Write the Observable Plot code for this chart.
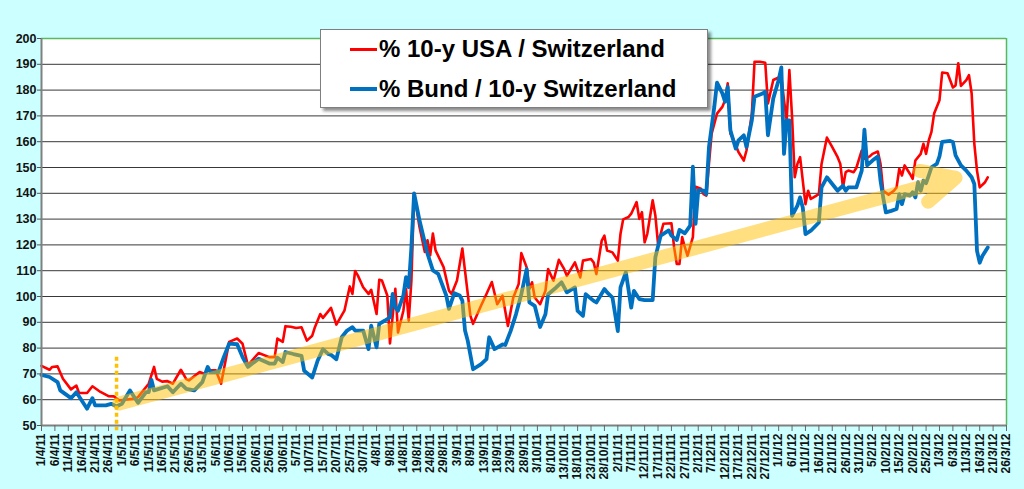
<!DOCTYPE html>
<html><head><meta charset="utf-8">
<script src="https://cdn.jsdelivr.net/npm/d3@7"></script>
<script src="https://cdn.jsdelivr.net/npm/@observablehq/plot@0.6"></script>
<style>
body{margin:0;background:#ccffff;}
#wrap{position:relative;width:1024px;height:489px;background:#ccffff;font-family:Arial,"Liberation Sans",sans-serif;overflow:hidden}
#legend{position:absolute;left:320px;top:29px;width:386px;height:77px;background:#fff;border:1px solid #7f7f7f;box-shadow:3px 3px 3px rgba(0,0,0,0.45);}
.item{position:absolute;left:29px;height:30px;display:flex;align-items:center;font-weight:bold;font-size:24px;color:#000;white-space:nowrap}
.sw{display:inline-block;width:27px;margin-right:2px}
</style></head><body>
<div id="wrap"><div id="chart"></div><div id="legend"></div></div>
<script>
// x values: days since 1 April 2011
const startDate = "2011-04-01";
const usaDays = [0,3,4,6,8,11,13,14,17,19,22,25,27,29,31,35,36,40,42,43,45,47,49,52,54,55,59,61,62,65,67,70,73,75,77,81,85,87,88,90,91,
93,95,97,99,101,102,104,105,108,110,113,115,116,117,118,120,122,123,125,126,127,129,130,132,133,135,136,137,138,139,141,143,144,145,146,147,150,152,153,155,157,160,161,164,166,168,
170,172,174,176,178,179,181,182,183,184,186,188,189,191,193,195,196,199,201,202,205,206,207,209,210,211,213,215,216,217,219,220,222,223,224,225,226,228,229,230,232,235,236,237,238,239,240,241,243,244,246,
247,248,249,250,252,254,255,256,257,258,260,262,263,265,266,268,270,271,273,275,276,277,278,279,280,281,282,283,285,286,287,288,290,291,293,295,297,298,299,300,
301,303,304,306,307,309,310,312,313,314,316,318,319,320,321,322,324,325,326,328,329,330,331,332,333,335,336,338,340,341,342,343,345,346,347,348,349,350,352,353];
const usaValues = [73.1,71.6,72.7,72.9,68.1,64,65.5,62.6,62.6,65.2,63,61.4,61.3,59.7,60,60.4,61,66.2,72.7,68.1,67,67.2,66.2,71.6,68,67.5,70.7,70,71.4,71.4,66.2,82.4,83.7,81.7,73.3,78.1,76.5,76.5,83.7,82.4,88.5,
88.3,87.8,88.1,82.9,84.8,88.1,93.2,91.7,95.6,89.1,94.5,103.9,101,109.9,108.2,103.6,101,102.6,93.2,106.5,106.2,100.4,81.8,103,86.1,94.5,103,90.6,106.2,140,127,117.3,121.8,116,124.4,117.9,111.4,102.3,101,106.2,118.6,92.6,89.4,96.5,101,105.6,
97,100.3,88.6,99.6,104.8,116.8,111.3,102.9,105.5,99.6,97,102.2,110.6,106.1,114.2,110.6,108,113.2,107.4,113.9,114.5,113.2,108.7,121.7,123.6,117.8,117.1,113.9,124.3,129.9,130.8,132.1,136.6,130.1,132.7,121,124.3,137.3,131.4,120.4,128.2,128.4,119.1,112.6,112.6,123,119.1,115.8,123,142.5,141.8,
139.7,139.1,151.4,163.1,170.9,173.5,176.1,182.6,163.1,161.2,156,152.7,156.6,170.9,191,191,190.6,174.8,183.9,184.9,185.2,176.1,168.3,187.8,169.6,146.2,151.4,154,135.8,141,137.8,138.4,139.7,151.4,161.6,157.9,154,151.4,142.3,148.2,
148.8,148.2,149.9,156.6,153.4,154.3,155.3,156.2,151.4,141,139.5,141,142.3,149.5,146.9,150.8,147.5,145.6,152.7,155.3,159.2,155.3,160.5,163.8,170.9,176.1,186.8,186.5,181,181.8,190.4,181.6,183.9,185.8,178.7,159.2,148.8,142.3,144.3,146.2];
const bundDays = [0,3,6,7,11,13,15,17,19,20,24,26,28,30,33,36,39,40,41,42,47,49,52,54,57,60,62,63,66,68,70,73,75,77,81,85,87,88,90,91,
94,97,98,101,103,105,107,108,110,112,114,116,117,120,122,123,125,126,128,130,131,132,133,135,136,137,138,139,141,144,146,148,151,152,154,156,157,158,159,161,164,166,167,169,
172,173,175,177,179,181,182,184,186,188,189,192,194,196,199,200,202,203,206,207,210,211,213,215,216,218,220,221,223,225,228,229,231,234,235,237,238,240,242,243,244,245,
247,248,249,251,252,254,255,256,257,259,260,262,263,265,266,269,270,271,273,275,276,277,278,279,280,282,283,284,285,287,290,291,293,295,297,299,300,
301,304,306,307,308,310,312,313,314,315,317,319,320,321,322,324,325,326,327,328,329,330,331,332,334,335,336,339,340,341,343,345,347,348,349,350,351,353];
const bundValues = [69.6,68.8,66.8,63.6,60.6,62.9,59.7,56.5,60.6,57.8,57.8,58.4,57.4,58.4,63.6,58.8,62.9,62.9,67.7,63.6,65.2,62.9,66.2,64.2,63.6,66.8,72.7,70.7,70.7,76.5,81.7,81.5,76.5,72.7,75.9,74,74,76.3,74.6,78.5,
77.7,77,71.2,68.6,75.1,79.6,77.7,77.4,75.7,84.2,86.8,88.1,86.8,86.8,79.6,88.7,80.3,89.4,90.6,91.9,101,95.8,94.5,100.4,107.5,103.6,119.2,140,129.6,116.6,110.1,108.8,100.4,95.2,101.3,100.4,98.4,86.8,82.9,71.8,73.8,75.7,84.2,79.6,
81.4,81.2,86.6,93.1,100.9,110.6,97.7,96.4,88.2,93.1,100.9,103.5,105.5,101.6,103.5,94.4,92.5,100.9,98.3,97.7,102.9,101.6,99.6,86.6,103.5,109.4,95.7,102.2,99,98.6,98.6,115.2,123.6,125.6,123.6,121.9,125.8,124.5,127.5,150.3,128.2,141.2,
141,139.7,157.9,173.5,182.9,178.7,175.5,181.3,164.4,157.3,160.5,162.5,157.9,168.3,177.4,178.7,179.4,162.5,176.8,183.9,188.8,155.3,168.3,168.3,131.3,135.2,138.4,134.5,124.2,125.5,128.7,142.3,146.2,143.6,141,143,141,
142.3,142.3,148.8,164.7,150.8,152.7,154.3,144.9,138.4,132.6,133.2,133.9,139.7,135.8,139.7,139.1,140.4,138.4,144.3,141,144.9,143.9,146.9,150.1,151.4,154.3,159.9,160.3,159.9,154.7,150.8,148.8,146.2,143.6,117.7,113.1,115.7,119];

const seriesNames = ["% 10-y USA / Switzerland", "% Bund / 10-y Switzerland"];
const seriesColors = ["#ff0000", "#0070c0"];
const yTicks = [50,60,70,80,90,100,110,120,130,140,150,160,170,180,190,200];
const xFirstTick = "2011-04-01", xLastTick = "2012-03-26", xTickStepDays = 5;
// trend arrow and marker line
const arrowStart = {date: "2011-04-30", value: 58.5};
const arrowEnd = {date: "2012-03-07", value: 146};
const markerDate = "2011-04-29", markerTop = 76.5, markerBottom = 48;

const base = new Date(startDate + "T00:00:00Z");
const toDate = d => d3.utcDay.offset(base, d);
const parse = s => new Date(s + "T00:00:00Z");
const usa = usaDays.map((d, i) => ({date: toDate(d), value: usaValues[i]}));
const bund = bundDays.map((d, i) => ({date: toDate(d), value: bundValues[i]}));
const xStart = parse(xFirstTick), xEnd = parse(xLastTick);
const xTicks = d3.utcDay.range(xStart, d3.utcDay.offset(xEnd, 1), xTickStepDays);
const fmt = d => `${d.getUTCDate()}/${d.getUTCMonth() + 1}/${String(d.getUTCFullYear()).slice(2)}`;

const chart = Plot.plot({
  width: 1024, height: 489,
  marginLeft: 41, marginRight: 18, marginTop: 38, marginBottom: 64,
  style: {background: "#ccffff", fontFamily: "Arial, 'Liberation Sans', sans-serif", overflow: "visible"},
  x: {type: "utc", domain: [xStart, xEnd]},
  y: {domain: [50, 200]},
  marks: [
    Plot.frame({fill: "white", stroke: "none"}),
    Plot.gridY(yTicks, {stroke: "#222", strokeOpacity: 0.9, strokeWidth: 1}),
    Plot.ruleY([200], {stroke: "#5cb85c", strokeWidth: 1.5}),
    Plot.ruleX([xEnd], {stroke: "#5cb85c", strokeWidth: 1.5}),
    Plot.line(usa, {x: "date", y: "value", stroke: seriesColors[0], strokeWidth: 2.6}),
    Plot.line(bund, {x: "date", y: "value", stroke: seriesColors[1], strokeWidth: 3.8}),
    Plot.arrow([{x1: parse(arrowStart.date), y1: arrowStart.value, x2: parse(arrowEnd.date), y2: arrowEnd.value}],
      {x1: "x1", y1: "y1", x2: "x2", y2: "y2", stroke: "#ffc000", strokeOpacity: 0.5, strokeWidth: 14,
       headLength: 3.9, headAngle: 52, strokeLinecap: "round", strokeLinejoin: "round"}),
    Plot.ruleX([parse(markerDate)], {y1: markerTop, y2: markerBottom, stroke: "#ffc000", strokeWidth: 3.5, strokeDasharray: "4,3"}),
    Plot.ruleX([xStart], {stroke: "#808080", strokeWidth: 2}),
    Plot.ruleY([50], {stroke: "#808080", strokeWidth: 2}),
    Plot.axisY({ticks: yTicks, tickSize: 4, tickPadding: 1, fontSize: 12.5, fontWeight: "bold", color: "#111", stroke: "#555"}),
    Plot.axisX({ticks: xTicks, tickFormat: fmt, tickRotate: -90, tickSize: 6, tickPadding: 2, fontSize: 12, fontWeight: "bold", color: "#111", stroke: "#666"})
  ]
});
document.getElementById("chart").appendChild(chart);

const legend = document.getElementById("legend");
seriesNames.forEach((name, i) => {
  const item = document.createElement("div");
  item.className = "item";
  item.style.top = (i === 0 ? 4 : 44) + "px";
  const sw = document.createElement("span");
  sw.className = "sw";
  sw.style.height = (i === 0 ? 3 : 4) + "px";
  sw.style.background = seriesColors[i];
  item.appendChild(sw);
  item.appendChild(document.createTextNode(name));
  legend.appendChild(item);
});
</script></body></html>
